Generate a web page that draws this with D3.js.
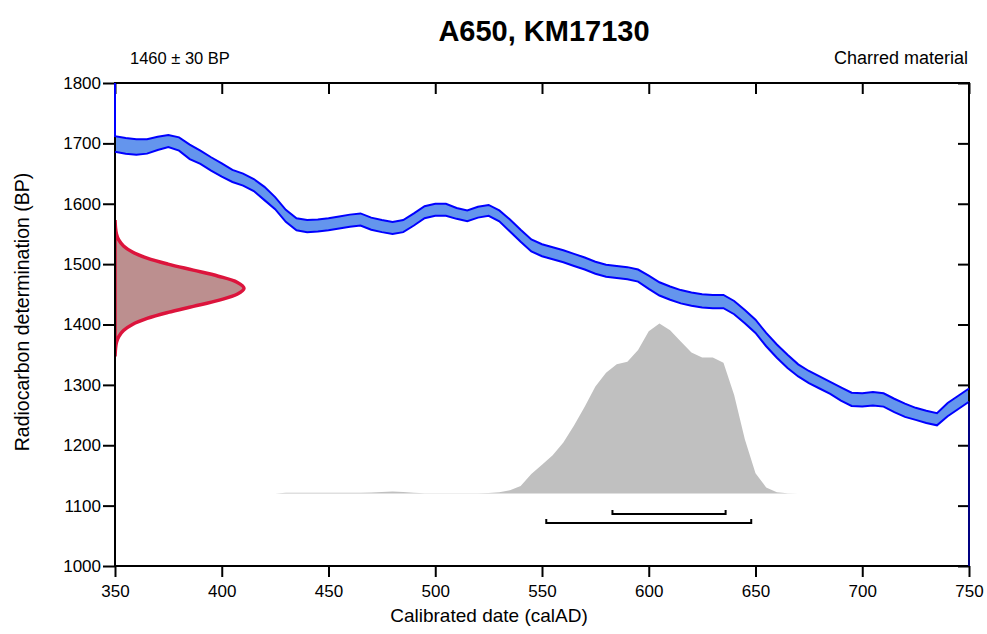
<!DOCTYPE html>
<html>
<head>
<meta charset="utf-8">
<script src="https://cdn.jsdelivr.net/npm/d3@7"></script>
<style>
  body { margin: 0; background: #fff; }
  svg text { font-family: "Liberation Sans", Arial, sans-serif; fill: #000; }
</style>
</head>
<body>
<div id="chart"></div>
<script>
// calibration curve (IntCal)
const curveYears = [350, 355, 360, 365, 370, 375, 380, 385, 390, 395, 400, 405, 410, 415, 420, 425, 430, 435, 440, 445,
  450, 455, 460, 465, 470, 475, 480, 485, 490, 495, 500, 505, 510, 515, 520, 525, 530, 535, 540, 545,
  550, 555, 560, 565, 570, 575, 580, 585, 590, 595, 600, 605, 610, 615, 620, 625, 630, 635, 640, 645,
  650, 655, 660, 665, 670, 675, 680, 685, 690, 695, 700, 705, 710, 715, 720, 725, 730, 735, 740, 745, 750];
const curveBP = [1699, 1696, 1694, 1695, 1700, 1704, 1699, 1686, 1677, 1666, 1656, 1646, 1640, 1631, 1617, 1601, 1580, 1566, 1563, 1564,
  1566, 1569, 1572, 1574, 1567, 1563, 1560, 1563, 1574, 1586, 1590, 1590, 1584, 1580, 1586, 1589, 1580, 1564, 1547, 1531,
  1523, 1518, 1513, 1507, 1501, 1494, 1489, 1487, 1485, 1481, 1470, 1459, 1452, 1446, 1442, 1439, 1438, 1438, 1428, 1413,
  1397, 1375, 1356, 1339, 1324, 1313, 1304, 1295, 1285, 1276, 1275, 1277, 1275, 1266, 1258, 1252, 1247, 1243, 1259, 1271, 1283];
const curveErr = [13, 13, 13, 12, 11, 10, 11, 12, 11, 11, 11, 10, 10, 10, 11, 10, 10, 10, 10, 10,
  10, 10, 10, 10, 10, 10, 10, 10, 10, 10, 10, 10, 9, 9, 9, 9, 9, 10, 10, 10,
  10, 10, 10, 10, 10, 10, 10, 10, 10, 10, 11, 11, 11, 11, 11, 11, 11, 11, 11, 11,
  11, 11, 11, 11, 10, 10, 10, 10, 11, 11, 11, 11, 11, 11, 11, 10, 10, 10, 11, 11, 11];

// calibrated probability distribution (relative)
const distYears = [425, 430, 435, 440, 445, 450, 455, 460, 465, 470, 475, 480, 485, 490, 495, 500, 505, 510, 515, 520,
  525, 530, 535, 540, 545, 550, 555, 560, 565, 570, 575, 580, 585, 590, 595, 600, 605, 610, 615, 620,
  625, 630, 635, 640, 645, 650, 655, 660, 665, 670];
const distProb = [0, 0.004, 0.005, 0.005, 0.005, 0.005, 0.004, 0.004, 0.005, 0.006, 0.009, 0.012, 0.009, 0.004, 0.002, 0.002, 0.002, 0.002, 0.002, 0.002,
  0.003, 0.008, 0.02, 0.045, 0.115, 0.17, 0.225, 0.3, 0.4, 0.51, 0.63, 0.71, 0.76, 0.775, 0.845, 0.955, 1.0, 0.96, 0.895, 0.83,
  0.8, 0.8, 0.77, 0.58, 0.32, 0.12, 0.036, 0.007, 0.002, 0];

// radiocarbon measurement 1460 ± 30 BP, relative density
const measBP = [1350, 1360, 1370, 1380, 1390, 1400, 1410, 1420, 1430, 1440, 1450, 1460,
  1470, 1480, 1490, 1500, 1510, 1520, 1530, 1540, 1550, 1560, 1570];
const measDensity = [0.001, 0.004, 0.011, 0.029, 0.066, 0.135, 0.249, 0.411, 0.607, 0.801, 0.946, 1,
  0.946, 0.801, 0.607, 0.411, 0.249, 0.135, 0.066, 0.029, 0.011, 0.004, 0.001];

// highest probability ranges
const range68 = [583, 636];
const range95 = [552, 648];

const xTicks = [350, 400, 450, 500, 550, 600, 650, 700, 750];
const yTicks = [1000, 1100, 1200, 1300, 1400, 1500, 1600, 1700, 1800];

const titleText = 'A650, KM17130';
const dateText = '1460 ± 30 BP';
const materialText = 'Charred material';

const width = 987, height = 634;
const margin = { top: 83, right: 18, bottom: 68, left: 115 };
const plotW = width - margin.left - margin.right;
const plotH = height - margin.top - margin.bottom;

const svg = d3.select('#chart').append('svg')
  .attr('width', width)
  .attr('height', height);

const x = d3.scaleLinear().domain([350, 750]).range([margin.left, margin.left + plotW]);
const y = d3.scaleLinear().domain([1000, 1800]).range([margin.top + plotH, margin.top]);

svg.append('defs').append('clipPath').attr('id', 'plot')
  .append('rect')
  .attr('x', margin.left).attr('y', margin.top)
  .attr('width', plotW).attr('height', plotH);

const plot = svg.append('g').attr('clip-path', 'url(#plot)');

// probability distribution on the date axis
const distBase = 1120;
const distH = 170;
const pScale = d3.scaleLinear().domain([0, 1]).range([y(distBase), y(distBase) - distH]);
const dist = distYears.map((d, i) => ({ year: d, p: distProb[i] }));
plot.append('path')
  .datum(dist)
  .attr('fill', '#c0c0c0')
  .attr('d', d3.area().x(d => x(d.year)).y0(y(distBase)).y1(d => pScale(d.p)));

// calibration curve band
const curve = curveYears.map((d, i) => ({ year: d, bp: curveBP[i], err: curveErr[i] }));
plot.append('path')
  .datum(curve)
  .attr('fill', '#6495ed')
  .attr('d', d3.area().x(d => x(d.year)).y0(d => y(d.bp - d.err)).y1(d => y(d.bp + d.err)));

// measurement distribution on the BP axis
const mScale = d3.scaleLinear().domain([0, 1]).range([x(350), x(350) + 129]);
const meas = measBP.map((d, i) => ({ bp: d, p: measDensity[i] }));
plot.append('path')
  .datum(meas)
  .attr('fill', '#bc8f8f')
  .attr('stroke', '#dc143c')
  .attr('stroke-width', 3.5)
  .attr('d', d3.area().curve(d3.curveCatmullRom).y(d => y(d.bp)).x0(x(350)).x1(d => mScale(d.p)));

// range brackets
const brackets = [
  { r: range68, yb: 514, up: 4 },
  { r: range95, yb: 523, up: 4 }
];
svg.selectAll('.bracket')
  .data(brackets)
  .enter().append('path')
  .attr('class', 'bracket')
  .attr('fill', 'none')
  .attr('stroke', '#000')
  .attr('stroke-width', 2)
  .attr('d', d => `M${x(d.r[0])},${d.yb - d.up}V${d.yb}H${x(d.r[1])}V${d.yb - d.up}`);

// axes
const axisG = svg.append('g');
axisG.append('g')
  .attr('transform', `translate(0,${margin.top + plotH})`)
  .call(d3.axisBottom(x).tickValues(xTicks).tickFormat(d3.format('d')).tickSize(11).tickPadding(8).tickSizeOuter(0));
axisG.append('g')
  .attr('transform', `translate(0,${margin.top})`)
  .call(d3.axisBottom(x).tickValues(xTicks).tickFormat('').tickSize(11).tickSizeOuter(0));
axisG.append('g')
  .attr('transform', `translate(${margin.left},0)`)
  .call(d3.axisLeft(y).tickValues(yTicks).tickFormat(d3.format('d')).tickSize(12).tickPadding(2).tickSizeOuter(0));
axisG.append('g')
  .attr('transform', `translate(${margin.left + plotW},0)`)
  .call(d3.axisLeft(y).tickValues(yTicks).tickFormat('').tickSize(11).tickSizeOuter(0));
axisG.selectAll('.domain').remove();
axisG.selectAll('line').attr('stroke', '#000').attr('stroke-width', 2);
axisG.selectAll('text').style('font-size', '17px').attr('fill', '#000');

svg.append('rect')
  .attr('x', margin.left).attr('y', margin.top)
  .attr('width', plotW).attr('height', plotH)
  .attr('fill', 'none')
  .attr('stroke', '#000')
  .attr('stroke-width', 2);

// curve outlines drawn over the frame
const upper = [{ year: 350, v: 1800 }].concat(curve.map(d => ({ year: d.year, v: d.bp + d.err })));
const lower = curve.map(d => ({ year: d.year, v: d.bp - d.err }));
[upper, lower].forEach(pts => {
  svg.append('path')
    .datum(pts)
    .attr('fill', 'none')
    .attr('stroke', '#0000ff')
    .attr('stroke-width', 2)
    .attr('d', d3.line().x(d => x(d.year)).y(d => y(d.v)));
});
// closing edge down the right frame
const last = lower[lower.length - 1];
svg.append('path')
  .datum([last, { year: 750, v: 1000 }])
  .attr('fill', 'none')
  .attr('stroke', '#000080')
  .attr('stroke-width', 2)
  .attr('d', d3.line().x(d => x(d.year)).y(d => y(d.v)));

// texts
svg.append('text')
  .attr('x', 544).attr('y', 41)
  .attr('text-anchor', 'middle')
  .style('font-size', '29px').style('font-weight', 'bold')
  .text(titleText);
svg.append('text')
  .attr('x', 130).attr('y', 64)
  .style('font-size', '16.5px')
  .text(dateText);
svg.append('text')
  .attr('x', 968).attr('y', 64)
  .attr('text-anchor', 'end')
  .style('font-size', '18px')
  .text(materialText);
svg.append('text')
  .attr('x', 489).attr('y', 622)
  .attr('text-anchor', 'middle')
  .style('font-size', '19px')
  .text('Calibrated date (calAD)');
svg.append('text')
  .attr('transform', 'translate(29,312) rotate(-90)')
  .attr('text-anchor', 'middle')
  .style('font-size', '19.5px')
  .text('Radiocarbon determination (BP)');
</script>
</body>
</html>
